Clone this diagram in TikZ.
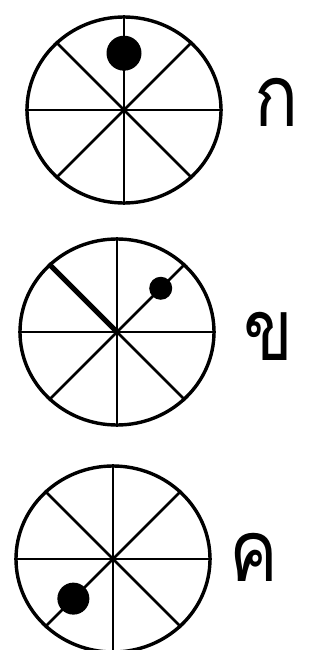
\documentclass[tikz,border=0pt]{standalone}
\usepackage{fontspec}
\newfontfamily\thaifont[Script=Thai]{Loma}
\usetikzlibrary{shapes.geometric}
\begin{document}
\begin{tikzpicture}[x=1pt,y=-1pt,
  wheel/.style={ellipse,draw,line width=3.4pt,minimum width=194pt,minimum height=186pt,inner sep=0pt},
  spoke/.style={line width=2.5pt},
  bead/.style={circle,fill,inner sep=0pt},
  hub/.style={circle,fill,inner sep=0pt,minimum size=6pt},
  lbl/.style={font=\thaifont\fontsize{86}{86}\selectfont,inner sep=0pt,xscale=0.85}]
\useasboundingbox (0,0) rectangle (322,650);
% wheel 1
\node[wheel] (c1) at (124,110) {};
\foreach \a in {0,45,...,315} \draw[spoke] (c1.center) -- (c1.\a);
\node[hub] (h1) at (c1.center) {};
\path (c1.center) -- (c1.90) node[bead,pos=0.6,minimum size=35pt] (d1) {};
\node[lbl] (l1) at (277,102) {ก};
% wheel 2
\node[wheel] (c2) at (117,332) {};
\foreach \a in {0,45,...,315} \draw[spoke] (c2.center) -- (c2.\a);
\draw[line width=5pt] (c2.center) -- (c2.135);
\node[hub] (h2) at (c2.center) {};
\path (c2.center) -- (c2.45) node[bead,pos=0.64,minimum size=23pt] (d2) {};
\node[lbl] (l2) at (268,336) {ข};
% wheel 3
\node[wheel] (c3) at (113,559) {};
\foreach \a in {0,45,...,315} \draw[spoke] (c3.center) -- (c3.\a);
\node[hub] (h3) at (c3.center) {};
\path (c3.center) -- (c3.225) node[bead,pos=0.58,minimum size=32pt] (d3) {};
\node[lbl] (l3) at (254,557) {ค};
\end{tikzpicture}
\end{document}
